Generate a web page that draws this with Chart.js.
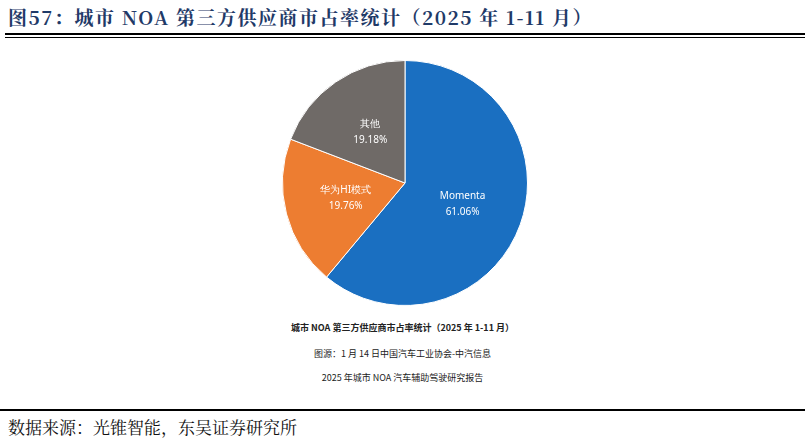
<!DOCTYPE html><html><head><meta charset="utf-8">
<script src="https://cdn.jsdelivr.net/npm/chart.js@4"></script>
<style>
body{margin:0;width:805px;height:444px;background:#fff;position:relative;overflow:hidden;font-family:"Noto Sans CJK SC",sans-serif}
#t{position:absolute;left:8px;top:3px;font-family:"Noto Serif CJK SC","Noto Sans CJK SC",serif;font-weight:bold;font-size:19px;letter-spacing:1.5px;color:#1f3a68;white-space:nowrap}
.l1{position:absolute;left:5px;width:800px;top:33px;height:2px;background:#000}
.l2{position:absolute;left:5px;width:800px;top:37px;height:1px;background:#000}
.l3{position:absolute;left:0;width:805px;top:409px;height:2px;background:#000}
.c{position:absolute;left:0;width:805px;text-align:center;color:#222}
#src{position:absolute;left:8px;top:414px;font-size:17px;color:#111;font-family:"Noto Serif CJK SC",serif}
#wrap{position:absolute;left:282px;top:60px;width:246px;height:246px}
</style></head><body>
<div id="t">图57：城市 NOA 第三方供应商市占率统计（2025 年 1-11 月）</div>
<div class="l1"></div><div class="l2"></div>
<div id="wrap"><canvas id="c"></canvas></div>
<div class="c" style="top:321px;font-size:9px;font-weight:bold">城市 NOA 第三方供应商市占率统计（2025 年 1-11 月）</div>
<div class="c" style="top:347px;font-size:9px">图源：1 月 14 日中国汽车工业协会-中汽信息</div>
<div class="c" style="top:371px;font-size:9px">2025 年城市 NOA 汽车辅助驾驶研究报告</div>
<div class="l3"></div>
<div id="src">数据来源：光锥智能，东吴证券研究所</div>
<script>
const labels=["Momenta","华为HI模式","其他"];
const values=[61.06,19.76,19.18];
const colors=["#1a6fc1","#ed7d31","#6f6a67"];
const lbl={id:'lbl',afterDatasetsDraw(ch){const ctx=ch.ctx;const m=ch.getDatasetMeta(0);ctx.save();ctx.fillStyle='#fff';ctx.font='10px "Noto Sans", sans-serif';ctx.textAlign='center';ctx.textBaseline='middle';
m.data.forEach((a,i)=>{const p=a.tooltipPosition();ctx.fillText(labels[i],p.x,p.y-8);ctx.fillText(values[i].toFixed(2)+'%',p.x,p.y+8);});ctx.restore();}};
new Chart(document.getElementById('c'),{type:'pie',data:{labels,datasets:[{data:values,backgroundColor:colors,borderColor:'#fff',borderWidth:1}]},
options:{responsive:true,maintainAspectRatio:false,animation:false,layout:{padding:0},plugins:{legend:{display:false},tooltip:{enabled:false}}},plugins:[lbl]});
</script></body></html>
